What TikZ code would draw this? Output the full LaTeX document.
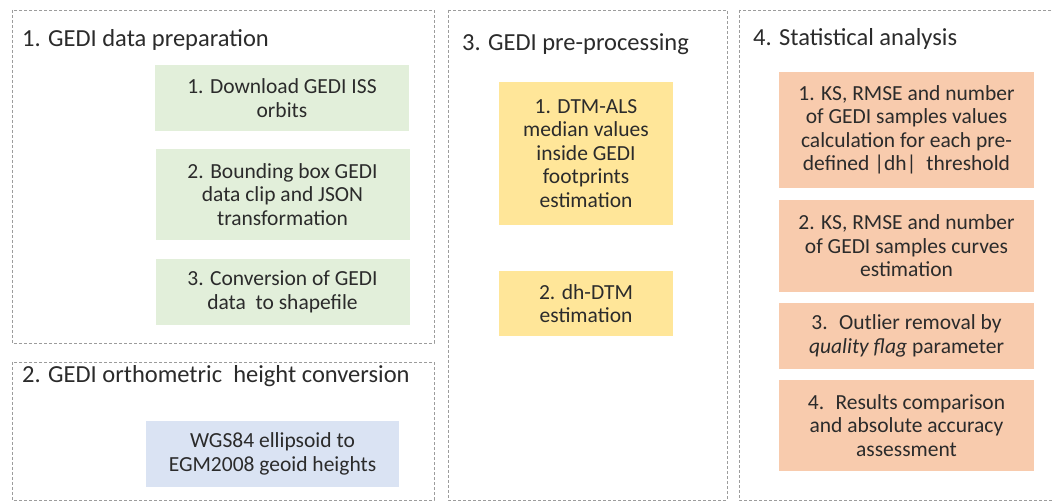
\documentclass[tikz,border=0pt]{standalone}
\usepackage{fontspec}
\setmainfont{Carlito}
\definecolor{frame}{HTML}{9C9C9C}
\definecolor{ink}{HTML}{2B2B2B}
\definecolor{greenfill}{HTML}{E2EFDA}
\definecolor{bluefill}{HTML}{DAE3F3}
\definecolor{yellowfill}{HTML}{FFE699}
\definecolor{orangefill}{HTML}{F8CBAD}
\tikzset{
  panel/.style={draw=frame, line width=0.9pt, dash pattern=on 3pt off 2pt},
  paneltitle/.style={anchor=base west, inner sep=0pt, text=ink,
    font=\fontsize{24.5}{28}\selectfont},
  stepbox/.style={inner sep=0pt, align=center, text=ink,
    font=\fontsize{21.5}{23.4}\selectfont},
  greenbox/.style={stepbox, fill=greenfill, minimum width=254pt},
  bluebox/.style={stepbox, fill=bluefill, minimum width=253pt},
  yellowbox/.style={stepbox, fill=yellowfill, minimum width=174pt},
  orangebox/.style={stepbox, fill=orangefill, minimum width=255pt},
}
\begin{document}
\begin{tikzpicture}[x=1pt, y=-1pt]
\useasboundingbox (0,0) rectangle (1053,502);
\clip (0,0) rectangle (1053,502);
% panel frames
\draw[panel] (12,10) rectangle (434,343);
\draw[panel] (12,362) rectangle (434,500);
\draw[panel] (448,10) rectangle (727,500);
\draw[panel] (739,10) rectangle (1070,500);
% panel titles
\node[paneltitle] (t1) at (22,47) {1. GEDI data preparation};
\node[paneltitle] (t2) at (22,383) {2. GEDI orthometric \ height conversion};
\node[paneltitle] (t3) at (462,51) {3. GEDI pre-processing};
\node[paneltitle] (t4) at (753,46) {4. Statistical analysis};
% 1. data preparation
\node[greenbox, minimum height=66pt] (g1) at (282,98) {1. Download GEDI ISS\\orbits};
\node[greenbox, minimum height=91pt] (g2) at (282.5,194.5) {2. Bounding box GEDI\\data clip and JSON\\transformation};
\node[greenbox, minimum height=66pt] (g3) at (282.5,292) {3. Conversion of GEDI\\data \ to shapefile};
% 2. height conversion
\node[bluebox, minimum height=66pt] (b1) at (272.5,454) {WGS84 ellipsoid to\\EGM2008 geoid heights};
% 3. pre-processing
\node[yellowbox, minimum height=143pt] (y1) at (586,153.5) {1. DTM-ALS\\median values\\inside GEDI\\footprints\\estimation};
\node[yellowbox, minimum height=65pt] (y2) at (586,303.5) {2. dh-DTM\\estimation};
% 4. statistical analysis
\node[orangebox, minimum height=116pt] (o1) at (906.5,130) {1. KS, RMSE and number\\of GEDI samples values\\calculation for each pre-\\defined |dh| \ threshold};
\node[orangebox, minimum height=92pt] (o2) at (906.5,246) {2. KS, RMSE and number\\of GEDI samples curves\\estimation};
\node[orangebox, minimum height=66pt] (o3) at (906.5,336) {3. \ Outlier removal by\\\textit{quality flag} parameter};
\node[orangebox, minimum height=91pt] (o4) at (906.5,425.5) {4. \ Results comparison\\and absolute accuracy\\assessment};
\end{tikzpicture}
\end{document}
